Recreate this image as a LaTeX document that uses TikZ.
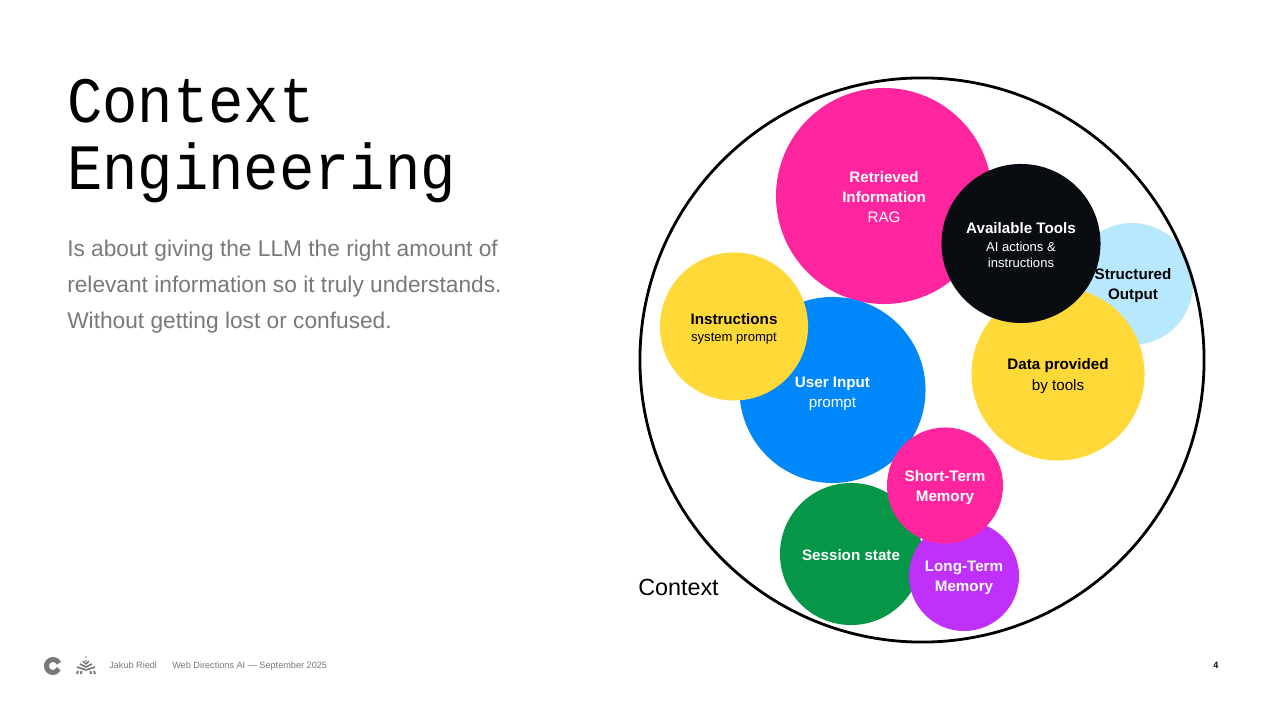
\documentclass[tikz,border=0pt]{standalone}
\usepackage{fontspec}
\setmainfont{Liberation Sans}
\newfontfamily\titlefont[FakeStretch=0.91]{Liberation Mono}
\usetikzlibrary{positioning}
\definecolor{hotpink}{HTML}{FF259E}
\definecolor{inkblack}{HTML}{090C10}
\definecolor{skyblue}{HTML}{B8E8FD}
\definecolor{sunyellow}{HTML}{FFD937}
\definecolor{brightblue}{HTML}{0088FB}
\definecolor{leafgreen}{HTML}{059647}
\definecolor{violet}{HTML}{BF30FB}
\definecolor{bodygray}{HTML}{77797A}
\definecolor{footgray}{HTML}{77797A}
\newcommand{\bigtxt}[1]{{\bfseries #1}}
\newcommand{\smalltxt}[1]{{\fontsize{9.3}{11}\selectfont #1}}
\newcommand{\pad}[1]{\rule{0pt}{#1pt}}
\tikzset{
  blob/.style={circle,inner sep=0pt,align=center,text=white,
    minimum size=#1*0.05cm,font=\fontsize{10.8}{14.3}\selectfont},
  inkblob/.style={blob=#1,text=black},
  foot/.style={anchor=base west,inner sep=0pt,text=footgray,font=\fontsize{6.5}{8}\selectfont},
  para/.style={anchor=base west,inner sep=0pt,text=bodygray,font=\fontsize{16.15}{20}\selectfont},
  headline/.style={anchor=base west,inner sep=0pt,font=\fontsize{46}{48}\titlefont},
}
\begin{document}
\begin{tikzpicture}[x=0.025cm,y=-0.025cm]
\useasboundingbox[fill=white] (0,0) rectangle (1280,720);
% title and text
\node[headline] (title1) at (67,123) {Context};
\node[headline] (title2) at (67,190) {Engineering};
\node[para] (text1) at (67,257) {Is about giving the LLM the right amount of};
\node[para] (text2) at (67,293) {relevant information so it truly understands.};
\node[para] (text3) at (67,329) {Without getting lost or confused.};
% circles, upper right
\node[blob=61,fill=skyblue] (output) at (1132,284) {};
\node[inkblob=86.5,fill=sunyellow] (data) at (1058,374) {\pad{10.8}\bigtxt{Data provided}\\by tools};
\node[blob=108,fill=hotpink] (retrieved) at (884,196) {\pad{9.4}\bigtxt{Retrieved}\\\bigtxt{Information}\\RAG};
\node[blob=79.5,fill=inkblack] (tools) at (1021,243.5) {\pad{10.1}\bigtxt{Available Tools}\\[-1.7pt]\smalltxt{AI actions \&}\\[-2.85pt]\smalltxt{instructions}};
\node[inner sep=0pt,align=center,font=\fontsize{10.8}{14.3}\selectfont] (outputlabel) at (1133,286) {\bigtxt{Structured}\\\bigtxt{Output}};
% circles, left
\node[blob=93,fill=brightblue] (input) at (832.5,390) {\pad{12.5}\bigtxt{User Input}\\prompt};
\node[inkblob=74,fill=sunyellow] (instructions) at (734,326.5) {\pad{11.7}\bigtxt{Instructions}\\[-2.1pt]\smalltxt{system prompt}};
% circles, bottom
\node[blob=71,fill=leafgreen] (session) at (851,554) {\pad{9.4}\bigtxt{Session state}};
\node[blob=55,fill=violet] (longterm) at (964,576) {\pad{9.6}\bigtxt{Long-Term}\\\bigtxt{Memory}};
\node[blob=58,fill=hotpink] (shortterm) at (945,485.5) {\pad{11}\bigtxt{Short-Term}\\\bigtxt{Memory}};
% context ring
\node[circle,draw=black,line width=0.07cm,minimum size=14.1cm,inner sep=0pt] (ring) at (922,360) {};
\node[anchor=base west,inner sep=0pt,font=\fontsize{16.6}{20}\selectfont] (ringlabel) at (638,595) {Context};
% footer
\draw[footgray,line width=0.125cm] (58.9,663.25) arc (-25:-335:6.5);
\node[foot] (author) at (109,668.5) {Jakub Riedl};
\node[foot] (event) at (172,668.5) {Web Directions AI --- September 2025};
\node[anchor=base,inner sep=0pt,text=inkblack,font=\fontsize{6.5}{8}\bfseries] (page) at (1216,668.5) {4};
% tree mark
\fill[footgray] (86,657) circle (0.9) (86,660.5) circle (0.9);
\foreach \r in {1,2,3}{
  \draw[footgray,line width=0.04cm] (86,{661+\r*3}) -- ({86-\r*3},{658+\r*3})
    (86,{661+\r*3}) -- ({86+\r*3},{658+\r*3});
}
\draw[footgray,line width=0.05cm] (77,674) -- (78,671) (81,674) -- (81.5,671) (91,674) -- (90.5,671) (95,674) -- (94,671);
\end{tikzpicture}
\end{document}
